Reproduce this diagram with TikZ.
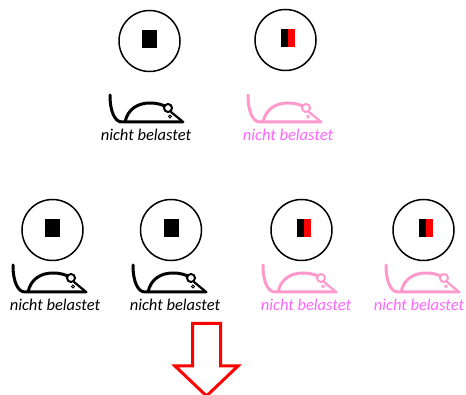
\documentclass[tikz,border=0pt]{standalone}
\usepackage{fontspec}
\setmainfont{Carlito}
\newcommand*{\tagfont}{\fontsize{16.5}{18}\selectfont\itshape}
\definecolor{pink}{RGB}{255,153,204}
\definecolor{magenta}{RGB}{255,102,255}
\definecolor{red}{RGB}{255,0,0}
\definecolor{black}{RGB}{0,0,0}
\usetikzlibrary{positioning}
\tikzstyle{base}=[x=1pt, y=-1pt, inner sep=0pt, outer sep=0pt]
\tikzstyle{dish}=[black, line width=1.5pt]
\tikzstyle{tag}=[font=\tagfont]
\tikzset{mouse/.pic={
    \draw [#1, line width=3pt, line cap=round, line join=round]
        (-15,-27) .. controls (-15,-10) and (-10,0) .. (-3,0) -- (58,0);
    \draw [#1, line width=3pt, line join=round]
        (0,0) .. controls (3,-14) and (14,-19) .. (25,-19)
        .. controls (33,-19) and (37,-17) .. (40,-16);
    \draw [#1, line width=2pt] (43,-14) circle (4);
    \draw [#1, line width=2.2pt, line cap=round] (46,-10) -- (57,-1);
    \draw [#1, line width=0.9pt] (45,-5.5) circle (1.4);
}}

\begin{document}
\begin{tikzpicture}[base]
    \useasboundingbox (0,0) rectangle (466,395);
    % dishes with plain square
    \foreach \cx/\cy in {149.5/41, 52.5/230, 171/230} {
        \draw [dish] (\cx,\cy) circle (30.5);
        \fill [black] ({\cx-7.5},{\cy-10.5}) rectangle ({\cx+7.5},{\cy+7.5});
    }
    % dishes with black/red bar
    \foreach \cx/\cy in {285.5/40, 301.5/230, 423.5/230} {
        \draw [dish] (\cx,\cy) circle (30.5);
        \fill [black] ({\cx-5},{\cy-10.5}) rectangle ({\cx+2},{\cy+7.5});
        \fill [red] ({\cx+2},{\cy-10.5}) rectangle ({\cx+9},{\cy+7.5});
    }
    % mice
    \pic at (125,122) {mouse=black};
    \pic at (263,122) {mouse=pink};
    \pic at (28,292) {mouse=black};
    \pic at (148,292) {mouse=black};
    \pic at (278,292) {mouse=pink};
    \pic at (401,292) {mouse=pink};
    % labels
    \node [tag, black] (t1) at (146,135) {nicht belastet};
    \node [tag, magenta] (t2) at (288,135) {nicht belastet};
    \node [tag, black] (b1) at (55,305) {nicht belastet};
    \node [tag, black] (b2) at (175,305) {nicht belastet};
    \node [tag, magenta] (b3) at (306,305) {nicht belastet};
    \node [tag, magenta] (b4) at (419,305) {nicht belastet};
    % arrow
    \draw [red, line width=3pt, fill=white, line join=miter]
        (192.5,323.5) -- (220.5,323.5) -- (220.5,366) -- (238,366)
        -- (206.5,396) -- (175,366) -- (192.5,366) -- cycle;
\end{tikzpicture}
\end{document}
